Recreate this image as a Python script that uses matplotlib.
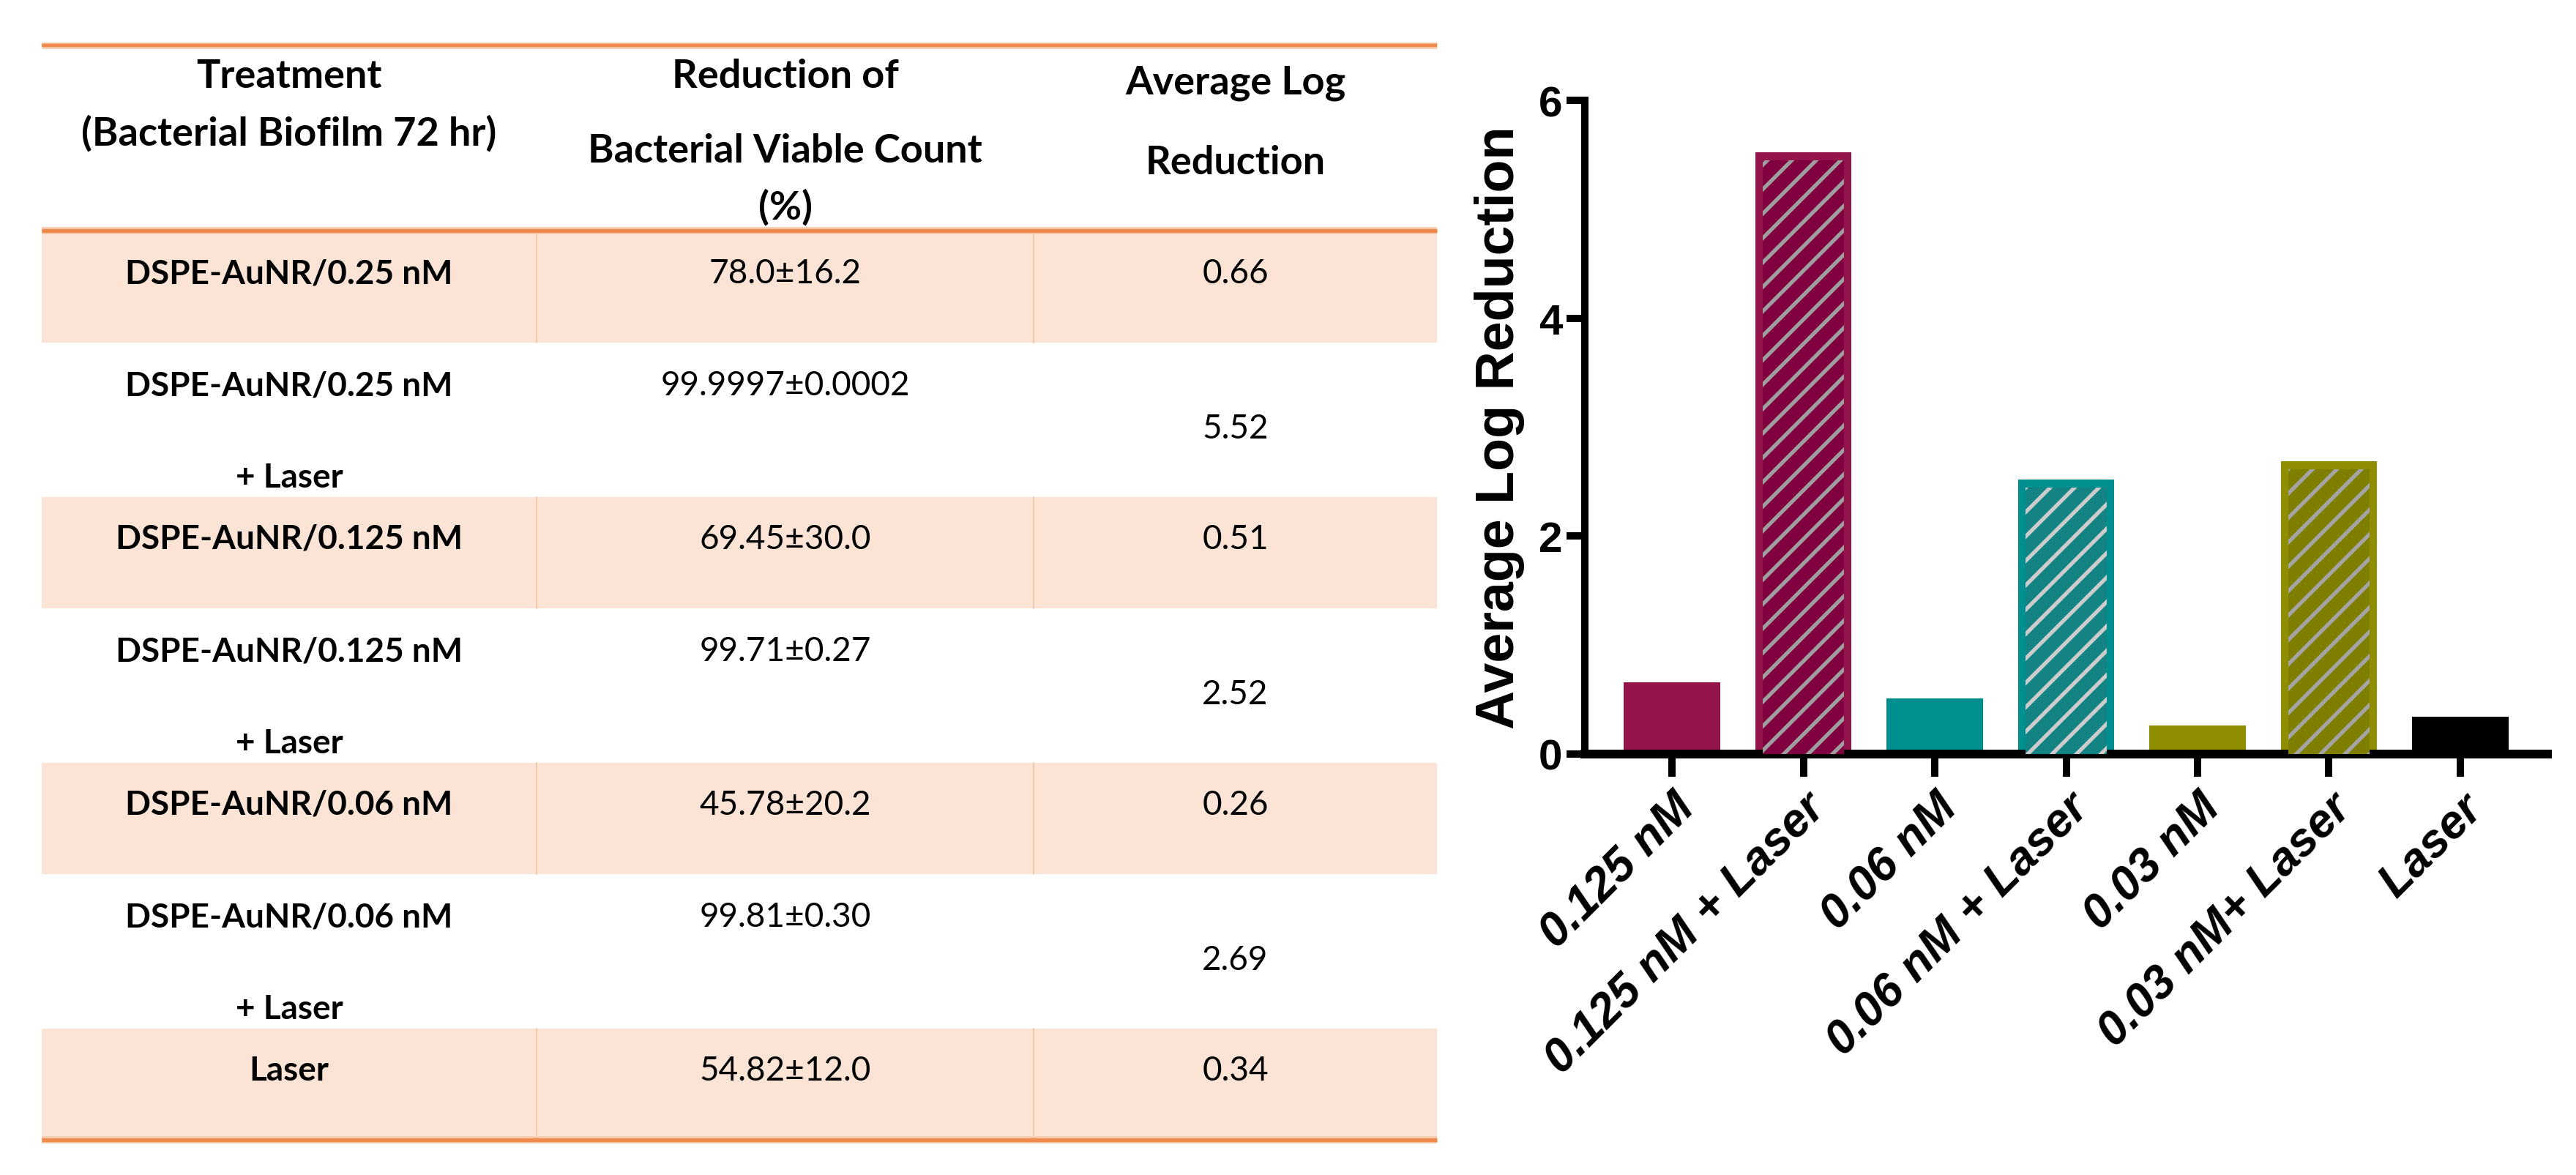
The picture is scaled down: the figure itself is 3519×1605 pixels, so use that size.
import numpy as np
import matplotlib.pyplot as plt
from matplotlib.patches import Rectangle

W, H = 3519, 1606
DPI = 200

# ---- table data ----
header = ["Treatment\n(Bacterial Biofilm 72 hr)",
          "Reduction of\nBacterial Viable Count\n(%)",
          "Average Log\nReduction"]
treatments = ["DSPE-AuNR/0.25 nM", "DSPE-AuNR/0.25 nM\n+ Laser",
              "DSPE-AuNR/0.125 nM", "DSPE-AuNR/0.125 nM\n+ Laser",
              "DSPE-AuNR/0.06 nM", "DSPE-AuNR/0.06 nM\n+ Laser",
              "Laser"]
viable_reduction = ["78.0\u00b116.2", "99.9997\u00b10.0002", "69.45\u00b130.0",
                    "99.71\u00b10.27", "45.78\u00b120.2", "99.81\u00b10.30",
                    "54.82\u00b112.0"]
log_reduction = ["0.66", "5.52", "0.51", "2.52", "0.26", "2.69", "0.34"]

# ---- bar chart data ----
groups = ["0.125 nM", "0.125 nM + Laser", "0.06 nM", "0.06 nM + Laser",
          "0.03 nM", "0.03 nM+ Laser", "Laser"]
avg_log = [float(v) for v in log_reduction]
with_laser = [False, True, False, True, False, True, False]

bar_colors = ['#94154c', '#94154c', '#008f8f', '#008f8f', '#8e8e00', '#8e8e00', '#000000']
inner_colors = ['#94154c', '#80003f', '#008f8f', '#148383', '#8e8e00', '#7e7e00', '#000000']
hatch_colors = ['#9e9e9e', '#9e9e9e', '#cccccc', '#cccccc', '#a4a4a4', '#a4a4a4', '#9e9e9e']

plt.rcParams['hatch.linewidth'] = 1.9

fig = plt.figure(figsize=(W / DPI, H / DPI), dpi=DPI)

# table drawn in pixel coordinates
tab = fig.add_axes([0, 0, 1, 1])
tab.set_xlim(0, W)
tab.set_ylim(H, 0)
tab.axis('off')

left, right = 57, 1963
col_edges = [57, 733, 1412, 1963]
col_mid = [(col_edges[i] + col_edges[i + 1]) / 2 for i in range(3)]
shade = '#fbe4d5'
orange = '#ee8a4c'
tfont = 'Lato'

def orange_line(y, lw):
    tab.plot([left, right], [y, y], color='#f8cbad', lw=lw + 1.6, solid_capstyle='butt')
    tab.plot([left, right], [y, y], color=orange, lw=lw, solid_capstyle='butt')

# header
head_lines = [[105, 182], [105, 207, 283], [113, 223]]
for c in range(3):
    for txt, yy in zip(header[c].split('\n'), head_lines[c]):
        tab.text(col_mid[c], yy, txt, ha='center', va='center', fontsize=19.5,
                 fontweight='bold', family=tfont)

y = 317
for i in range(len(treatments)):
    laser = '\n' in treatments[i]
    h = 211 if laser else 152
    if not laser:
        tab.add_patch(Rectangle((left, y), right - left, h, color=shade, lw=0))
        for xe in col_edges[1:3]:
            tab.plot([xe, xe], [y, y + h], color='#f5c4a3', lw=0.6)
        tab.text(col_mid[0], y + 57, treatments[i], ha='center', va='center',
                 fontsize=16.5, fontweight='bold', family=tfont)
        tab.text(col_mid[1], y + 57, viable_reduction[i], ha='center', va='center',
                 fontsize=16.5, family=tfont)
        tab.text(col_mid[2], y + 57, log_reduction[i], ha='center', va='center',
                 fontsize=16.5, family=tfont)
    else:
        first, second = treatments[i].split('\n')
        tab.text(col_mid[0], y + 59, first, ha='center', va='center',
                 fontsize=16.5, fontweight='bold', family=tfont)
        tab.text(col_mid[0], y + 184, second, ha='center', va='center',
                 fontsize=16.5, fontweight='bold', family=tfont)
        tab.text(col_mid[1], y + 58, viable_reduction[i], ha='center', va='center',
                 fontsize=16.5, family=tfont)
        tab.text(col_mid[2], y + 117, log_reduction[i], ha='center', va='center',
                 fontsize=16.5, family=tfont)
    y += h

orange_line(63, 1.6)
orange_line(316, 1.9)
orange_line(y, 1.9)

# ---- bar chart ----
ax = fig.add_axes([2165 / W, 1 - 1031 / H, (3480 - 2165) / W, (1031 - 138) / H])
x = np.arange(len(groups))
bw = 0.73
for i in range(len(groups)):
    ax.bar(x[i], avg_log[i], width=bw, color=bar_colors[i], lw=0, zorder=2)
    if with_laser[i]:
        ax.bar(x[i], avg_log[i] - 0.074, width=bw - 0.112, color=inner_colors[i],
               edgecolor=hatch_colors[i], lw=0, hatch='//', zorder=3)

ax.set_xlim(-0.663, 6.663)
ax.set_ylim(0, 6)
ax.set_yticks([0, 2, 4, 6])
ax.set_xticks(x)
ax.set_xticklabels(groups, rotation=45, ha='right', va='top', rotation_mode='anchor',
                   fontsize=23, fontweight='bold', fontstyle='italic', family='Liberation Sans')
for lab in ax.get_yticklabels():
    lab.set_fontsize(21)
    lab.set_fontweight('bold')
    lab.set_family('Liberation Sans')
ax.set_ylabel('Average Log Reduction', fontsize=26.5, fontweight='bold',
              family='Liberation Sans')
ax.yaxis.set_label_coords(-0.062, 0.5)

for s in ['top', 'right']:
    ax.spines[s].set_visible(False)
ax.spines['left'].set_linewidth(3.6)
ax.spines['bottom'].set_linewidth(4.3)
ax.tick_params(axis='y', length=9, width=3.6, pad=2)
ax.tick_params(axis='x', length=11, width=3.6, pad=4.5)

fig.savefig('out.png', dpi=DPI)
